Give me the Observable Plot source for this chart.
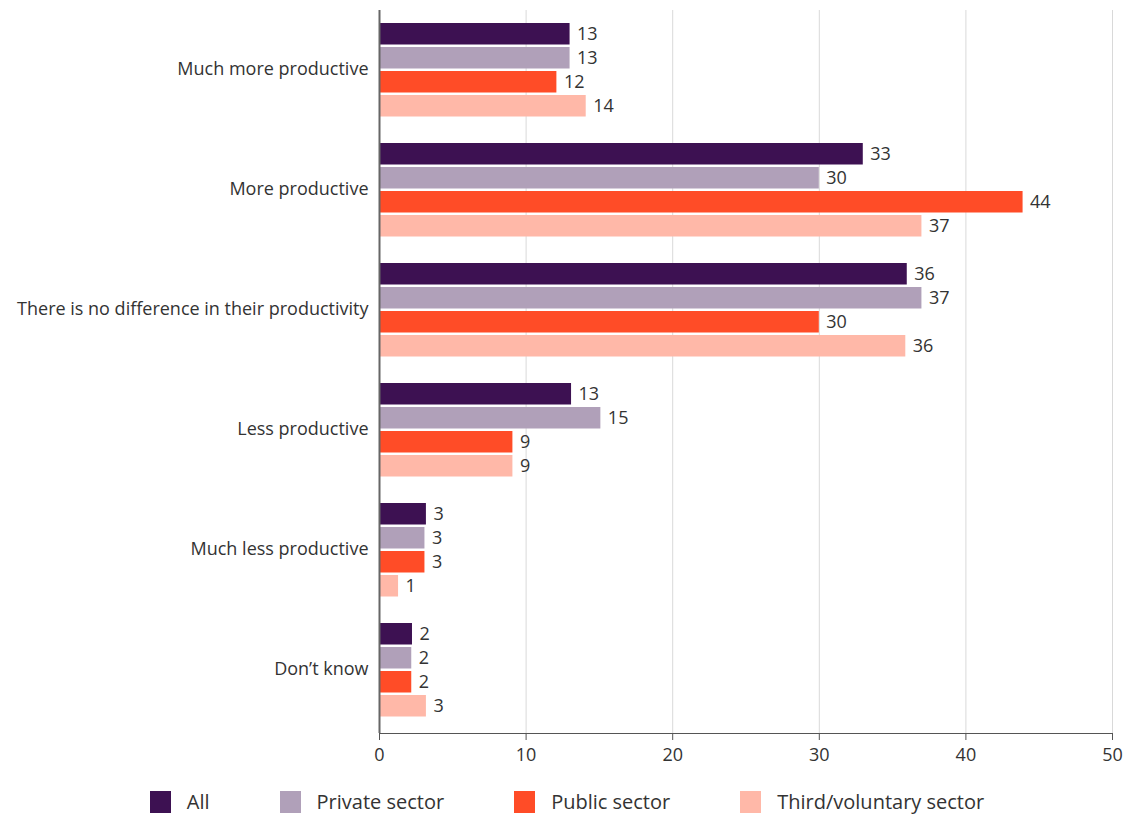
<!DOCTYPE html>
<html>
<head>
<meta charset="utf-8">
<script src="https://cdn.jsdelivr.net/npm/d3@7"></script>
<script src="https://cdn.jsdelivr.net/npm/@observablehq/plot@0.6"></script>
<style>
  body { margin: 0; background: #fff; font-family: "Open Sans", sans-serif; }
  #chart svg { display: block; }
  .legend { display: flex; justify-content: center; align-items: center; gap: 70px; font-size: 20px; color: #333; margin-top: 13px; }
  .legend .item { display: flex; align-items: center; gap: 16px; }
  .legend .sw { width: 21px; height: 22px; display: inline-block; }
</style>
</head>
<body>
<div id="chart"></div>
<div class="legend" id="legend"></div>
<script>
const categories = ["Much more productive", "More productive", "There is no difference in their productivity", "Less productive", "Much less productive", "Don\u2019t know"];
const seriesNames = ["All", "Private sector", "Public sector", "Third/voluntary sector"];
const colors = ["#3d1152", "#b0a0b9", "#ff4c27", "#ffb8a8"];
// values per series, in category order
const allValues = [13.0, 33.0, 36.0, 13.1, 3.2, 2.25];
const privateValues = [13.0, 30.0, 37.0, 15.1, 3.1, 2.2];
const publicValues = [12.1, 43.9, 30.0, 9.1, 3.1, 2.2];
const thirdValues = [14.1, 37.0, 35.9, 9.1, 1.3, 3.2];
const xTicks = [0, 10, 20, 30, 40, 50];

const seriesValues = [allValues, privateValues, publicValues, thirdValues];
const data = [];
seriesNames.forEach((s, si) => {
  categories.forEach((c, ci) => {
    data.push({category: c, series: s, si, value: seriesValues[si][ci], label: String(Math.round(seriesValues[si][ci]))});
  });
});

const width = 1134, height = 775;
const marginTop = 10, marginBottom = 42, marginLeft = 379, marginRight = 22;
const step = (height - marginTop - marginBottom) / categories.length;
const barH = 22, barGap = 2, groupOffset = 11;

const marks = [
  Plot.gridX(xTicks, {stroke: "#d9d9d9", strokeOpacity: 1}),
  Plot.frame({anchor: "bottom", stroke: "#555"}),
];
seriesNames.forEach((s, si) => {
  const top = groupOffset + si * (barH + barGap);
  const subset = data.filter(d => d.si === si);
  marks.push(Plot.barX(subset, {
    x: "value", y: "category", fill: colors[si],
    insetTop: top, insetBottom: step - top - barH
  }));
  marks.push(Plot.text(subset, {
    x: "value", y: "category", text: "label",
    dy: top + barH / 2 - step / 2, dx: 7, textAnchor: "start",
    fill: "#333", fontSize: 18
  }));
});
marks.push(Plot.ruleX([0], {stroke: "#666", strokeWidth: 2}));
marks.push(Plot.axisX(xTicks, {tickSize: 7, tickPadding: 8, fontSize: 18, color: "#333", stroke: "#555", label: null}));
marks.push(Plot.axisY({tickSize: 0, tickPadding: 11, dy: -3, fontSize: 18, color: "#333", label: null}));

const chart = Plot.plot({
  width, height, marginTop, marginBottom, marginLeft, marginRight,
  style: {fontFamily: "Open Sans, sans-serif", fontSize: "18px", color: "#333"},
  x: {domain: [0, 50]},
  y: {domain: categories, padding: 0},
  marks
});
document.getElementById("chart").appendChild(chart);

const legend = document.getElementById("legend");
seriesNames.forEach((s, i) => {
  const item = document.createElement("div");
  item.className = "item";
  const sw = document.createElement("span");
  sw.className = "sw";
  sw.style.background = colors[i];
  const t = document.createElement("span");
  t.textContent = s;
  item.appendChild(sw); item.appendChild(t);
  legend.appendChild(item);
});
</script>
</body>
</html>
